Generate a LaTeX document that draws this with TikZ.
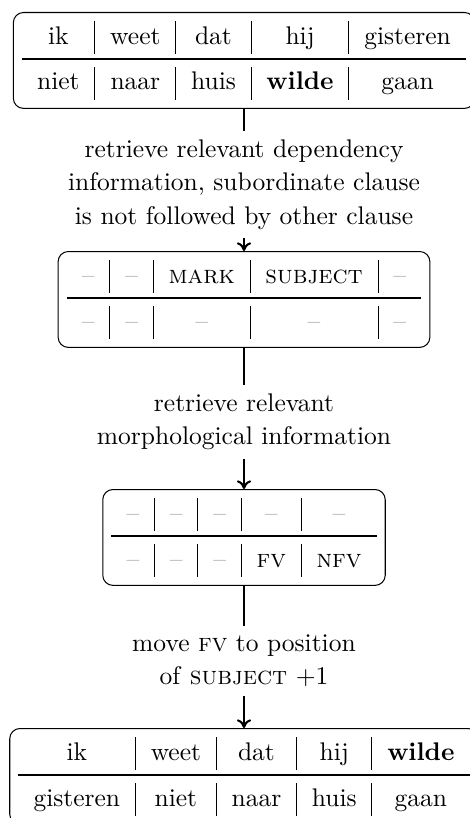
\documentclass[tikz,border=0pt]{standalone}
\usepackage{booktabs}
\usetikzlibrary{arrows.meta}
\newcommand{\dsh}{\textcolor{black!45}{--}}
\renewcommand{\arraystretch}{1.08}
\tikzset{
  box/.style={draw, rounded corners=4pt, inner sep=3.33pt, line width=0.4pt, anchor=north},
  lab/.style={align=center, inner sep=3.33pt, anchor=north, font=\fontsize{10}{13}\selectfont},
  link/.style={line width=0.8pt},
  arr/.style={line width=0.8pt, -{To[length=3.4pt,width=5.6pt]}}
}
\begin{document}
\begin{tikzpicture}[x=0.392157pt,y=-0.392157pt]
\useasboundingbox (0,0) rectangle (470,818);
\clip (0,0) rectangle (470,818);
\node[box] (b1) at (244,12) {\begin{tabular}{c|c|c|c|c}
ik & weet & dat & hij & gisteren \\ \midrule
niet & naar & huis & \textbf{wilde} & gaan
\end{tabular}};
\node[lab] (l1) at (244,131) {retrieve relevant dependency\\information, subordinate clause\\is not followed by other clause};
\node[box] (b2) at (244,251) {\begin{tabular}{c|c|c|c|c}
\dsh & \dsh & \textsc{mark} & \textsc{subject} & \dsh \\ \midrule
\dsh & \dsh & \dsh & \dsh & \dsh
\end{tabular}};
\node[lab] (l2) at (244,385) {retrieve relevant\\morphological information};
\node[box] (b3) at (244,489) {\begin{tabular}{c|c|c|c|c}
\dsh & \dsh & \dsh & \dsh & \dsh \\ \midrule
\dsh & \dsh & \dsh & \textsc{fv} & \textsc{nfv}
\end{tabular}};
\node[lab] (l3) at (244,626) {move \textsc{fv} to position\\of \textsc{subject} $+1$};
\node[box] (b4) at (244,728) {\begin{tabular}{c|c|c|c|c}
ik & weet & dat & hij & \textbf{wilde} \\ \midrule
gisteren & niet & naar & huis & gaan
\end{tabular}};
\draw[link] (b1.south) -- (l1.north);
\draw[arr] (l1.south) -- (b2.north);
\draw[link] (b2.south) -- (l2.north);
\draw[arr] (l2.south) -- (b3.north);
\draw[link] (b3.south) -- (l3.north);
\draw[arr] (l3.south) -- (b4.north);
\end{tikzpicture}
\end{document}
